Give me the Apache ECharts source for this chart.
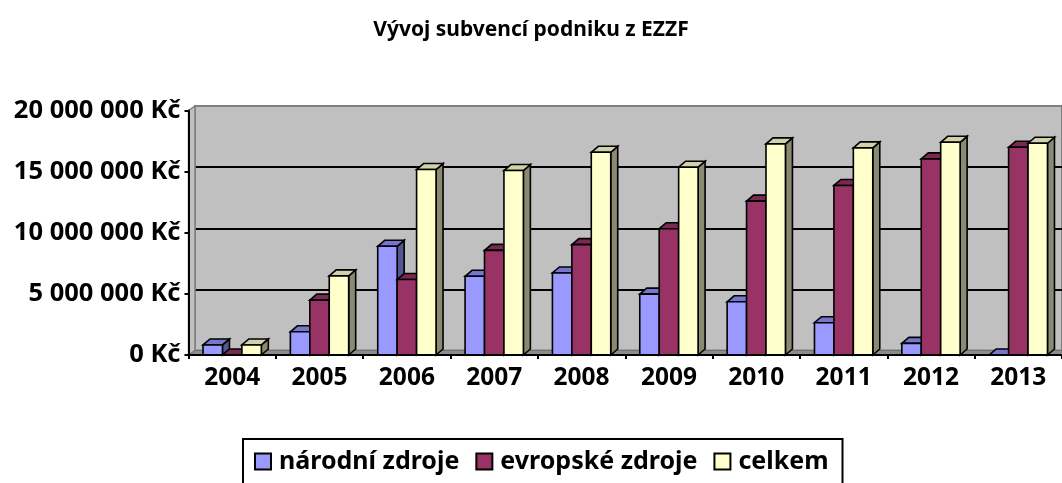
<!DOCTYPE html>
<html>
<head>
<meta charset="utf-8">
<script src="https://cdn.jsdelivr.net/npm/echarts@6/dist/echarts.min.js"></script>
<style>
html,body{margin:0;padding:0;background:#fff;}
#c{width:1062px;height:483px;}
</style>
</head>
<body>
<div id="c"></div>
<script>
// ---- data ----
const years = ['2004','2005','2006','2007','2008','2009','2010','2011','2012','2013'];
const narodni = [820000, 1900000, 8890000, 6440000, 6710000, 4980000, 4350000, 2640000, 950000, 0];
const evropske = [0, 4490000, 6170000, 8560000, 9030000, 10330000, 12590000, 13870000, 16040000, 16990000];
const celkem = [820000, 6470000, 15170000, 15090000, 16580000, 15360000, 17270000, 16940000, 17400000, 17320000];
const seriesNames = ['národní zdroje', 'evropské zdroje', 'celkem'];
const yMax = 20000000, yStep = 5000000;

// ---- styles ----
const FONT = 'Noto Sans';
const faces = [
  {front:'#9999FF', top:'#7676CC', side:'#55558F'},
  {front:'#993366', top:'#7A2952', side:'#5C1F3D'},
  {front:'#FFFFCC', top:'#D2D2A8', side:'#8A8A72'}
];
// layout (front plane / back wall)
const FL = 188.5, FT = 110.5, FB = 355, FW = 877;   // front plane
const DX = 6.5, DY = -4.5;                          // wall depth offset
const BDX = 7, BDY = -6;                            // bar depth offset

function fmt(v){ return String(v).replace(/\B(?=(\d{3})+(?!\d))/g,' ') + ' Kč'; }

function makeRender(si){
  return function(params, api){
    const cat = api.value(0), val = api.value(1);
    const base = api.coord([cat, 0]);
    const top = api.coord([cat, val]);
    const band = api.size([1, 0])[0];
    const bw = band * 0.2225;
    const x0 = base[0] - 1.5*bw + si*bw;
    const x1 = x0 + bw;
    const yb = base[1], yt = top[1];
    const f = faces[si];
    const st = (c)=>({fill:c, stroke:'#000', lineWidth:1.6, lineJoin:'miter'});
    return {type:'group', children:[
      {type:'polygon', shape:{points:[[x1,yb],[x1+BDX,yb+BDY],[x1+BDX,yt+BDY],[x1,yt]]}, style:st(f.side)},
      {type:'polygon', shape:{points:[[x0,yt],[x0+BDX,yt+BDY],[x1+BDX,yt+BDY],[x1,yt]]}, style:st(f.top)},
      {type:'rect', shape:{x:x0,y:yt,width:bw,height:Math.max(0,yb-yt)}, style:st(f.front)}
    ]};
  };
}

const allVals = [narodni, evropske, celkem];
const series = allVals.map((arr, si) => ({
  name: seriesNames[si],
  type: 'custom',
  xAxisIndex: 1, yAxisIndex: 1,
  renderItem: makeRender(si),
  itemStyle: {color: faces[si].front, borderColor:'#000', borderWidth:2},
  encode: {x:0, y:1},
  data: arr.map((v,i)=>[i, v]),
  z: 5
}));

const chart = echarts.init(document.getElementById('c'), null, {renderer:'canvas'});
chart.setOption({
  animation:false,
  backgroundColor:'#fff',
  textStyle:{fontFamily:FONT},
  title:{
    text:'Vývoj subvencí podniku z EZZF', left:'center', top:15,
    textStyle:{fontFamily:FONT, fontWeight:'bold', fontSize:21, color:'#000'}
  },
  grid:[
    {left:FL+DX, top:FT+DY, width:FW+20, height:FB-FT, show:true, backgroundColor:'#C0C0C0', borderColor:'#808080', borderWidth:2, containLabel:false},
    {left:FL, top:FT, width:FW, height:FB-FT, show:false, containLabel:false}
  ],
  xAxis:[
    {gridIndex:0, type:'value', show:false, min:0, max:1},
    {gridIndex:1, type:'category', data:years, boundaryGap:true,
     axisLine:{show:true, lineStyle:{color:'#000', width:2}},
     axisTick:{show:true, length:4, lineStyle:{color:'#000', width:2}},
     axisLabel:{fontFamily:FONT, fontWeight:'bold', fontSize:24.5, color:'#000', margin:11},
     z:6}
  ],
  yAxis:[
    {gridIndex:0, type:'value', min:0, max:yMax, interval:yStep,
     axisLine:{show:false}, axisTick:{show:false}, axisLabel:{show:false},
     splitLine:{show:true, lineStyle:{color:['#000','#000','#000','#000','#808080'], width:2}}},
    {gridIndex:1, type:'value', min:0, max:yMax, interval:yStep,
     axisLine:{show:true, lineStyle:{color:'#000', width:2}},
     axisTick:{show:true, length:4, lineStyle:{color:'#000', width:2}},
     splitLine:{show:false},
     axisLabel:{fontFamily:FONT, fontWeight:'bold', fontSize:25.5, color:'#000', margin:8, formatter:fmt},
     z:6}
  ],
  legend:{
    data:seriesNames, left:243, top:439,
    orient:'horizontal', icon:'rect', itemWidth:16, itemHeight:16, itemGap:16,
    borderColor:'#000', borderWidth:2, padding:[10,14,24,11],
    textStyle:{fontFamily:FONT, fontWeight:'bold', fontSize:25, color:'#000', padding:[0,0,0,3]},
    itemStyle:{borderColor:'#000', borderWidth:2}
  },
  graphic:[
    // left wall
    {type:'polygon', z:1, shape:{points:[[FL,FT],[FL+DX,FT+DY],[FL+DX,FB+DY],[FL,FB]]},
     style:{fill:'#C0C0C0', stroke:'#808080', lineWidth:1.5}},
    // floor
    {type:'polygon', z:1, shape:{points:[[FL,FB],[FL+DX,FB+DY],[FL+FW+DX,FB+DY],[FL+FW,FB]]},
     style:{fill:'#8C8C8C', stroke:'#707070', lineWidth:1}}
  ],
  series: series
});
</script>
</body>
</html>
